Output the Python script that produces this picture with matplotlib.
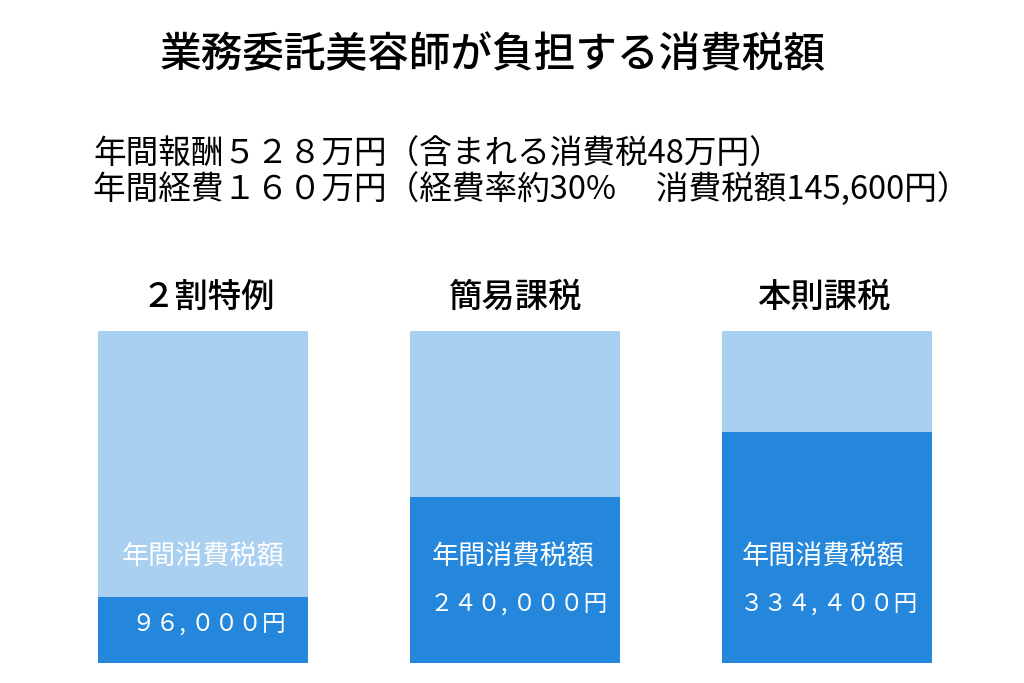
import matplotlib.pyplot as plt

plt.rcParams['font.family'] = ['Noto Sans CJK JP', 'DejaVu Sans']

categories = ['２割特例', '簡易課税', '本則課税']
total_tax = 480000
tax_paid = [96000, 240000, 334400]
value_labels = ['９６, ０００円', '２４０, ０００円', '３３４, ４００円']
title = '業務委託美容師が負担する消費税額'
info_lines = ['年間報酬５２８万円（含まれる消費税48万円）',
              '年間経費１６０万円（経費率約30%　 消費税額145,600円）']

light = '#A9D0F0'
dark = '#2587DC'

W, H = 1024, 683
fig = plt.figure(figsize=(W / 100, H / 100), dpi=100)
ax = fig.add_axes([47 / W, 20 / H, 936 / W, 332 / H])

x = range(len(categories))
ax.bar(x, [total_tax] * len(categories), width=0.673, color=light)
ax.bar(x, tax_paid, width=0.673, color=dark)
ax.set_xlim(-0.5, 2.5)
ax.set_ylim(0, total_tax)
ax.axis('off')

for i, (cat, v, lab) in enumerate(zip(categories, tax_paid, value_labels)):
    cx = 203 + 312 * i
    fig.text((cx + 5 - 4 * i) / W, 1 - 297 / H, cat, ha='center', va='center',
             fontsize=24, fontweight='medium')
    fig.text((cx - 2 * i) / W, 1 - 557 / H, '年間消費税額', ha='center',
             va='center', fontsize=19.5, color='white')
    ly = 624 if i == 0 else 604
    fig.text((cx + 6 - 2 * i) / W, 1 - ly / H, lab, ha='center', va='center',
             fontsize=17, color='white')

fig.text(493 / W, 1 - 55 / H, title, ha='center', va='center',
         fontsize=30, fontweight='medium')
fig.text(93 / W, 1 - 155 / H, info_lines[0], ha='left', va='center', fontsize=23.5)
fig.text(93 / W, 1 - 190 / H, info_lines[1], ha='left', va='center', fontsize=23.5)

fig.savefig('out.png', dpi=100)
